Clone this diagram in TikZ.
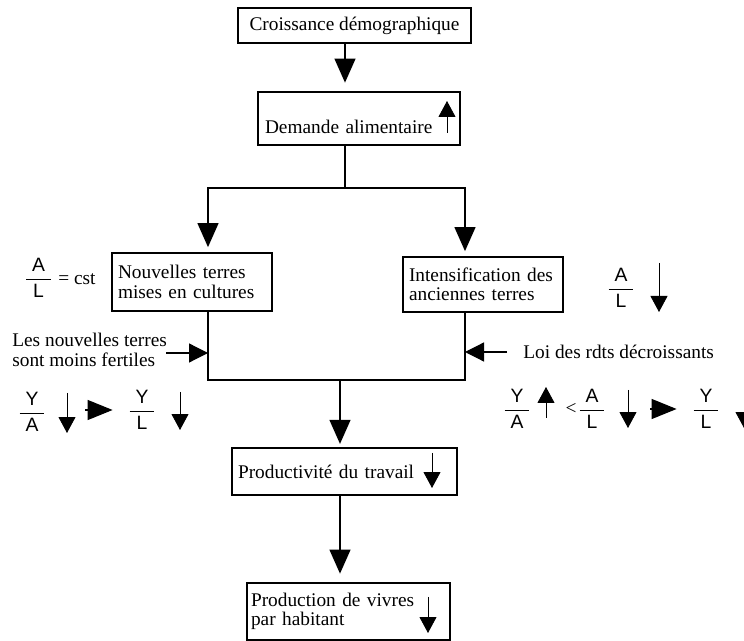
\documentclass[tikz,border=0pt]{standalone}
\usepackage{fontspec}
\setmainfont{Liberation Serif}
\setsansfont{Liberation Sans}
\usepackage{amsmath}
\usetikzlibrary{arrows.meta}
\tikzset{
	boite/.style={draw, line width=0.7pt, inner ysep=2pt, align=left}, % cadre des etapes
	flux/.style={line width=0.7pt, -{Triangle[length=0.48cm,width=0.42cm]}, shorten >=3pt},
	lien/.style={line width=0.7pt},
	cote/.style={line width=0.7pt, -{Triangle[length=0.38cm,width=0.38cm]}},
	implique/.style={line width=0.7pt, -{Triangle[length=0.5cm,width=0.4cm]}},
	hausse/.style={line width=0.5pt, -{Triangle[length=0.32cm,width=0.34cm]}},
	texte/.style={inner sep=0pt, align=left},
}
\newcommand{\rapport}[2]{$\genfrac{}{}{0.8pt}{0}{\makebox[14pt]{\textsf{#1}}}{\textsf{#2}}$}

\begin{document}
\begin{tikzpicture}[x=0.02cm, y=-0.02cm, every node/.style={font=\fontsize{11}{11}\selectfont}]
			\useasboundingbox (0,0) rectangle (744,641);

			% points de branchement
			\coordinate (split) at (345,188);
			\coordinate (lsplit) at (208,188);
			\coordinate (rsplit) at (465,188);
			\coordinate (merge) at (340,380);

			% etapes
			\node[boite, minimum width=4.66cm, minimum height=0.7cm] (croiss) at (354.5,25.5) {Croissance démographique};
			\node[boite, minimum width=4.04cm, minimum height=1.06cm, inner xsep=0.14cm, text width=3.76cm,
				text height=16.8pt, text depth=0pt] (demande) at (359,118.5) {Demande alimentaire};
			\node[boite, minimum width=3.2cm, minimum height=1.16cm, inner xsep=0.12cm, text width=2.96cm] (nouv) at (192,282) {Nouvelles terres\\mises en cultures};
			\node[boite, minimum width=3.2cm, minimum height=1.1cm, inner xsep=0.12cm, text width=2.96cm] (inten) at (483,284.5) {Intensification des\\anciennes terres};
			\node[boite, minimum width=4.5cm, minimum height=0.94cm, inner xsep=0.12cm, text width=4.26cm] (prod) at (344.5,471.5) {Productivité du travail};
			\node[boite, minimum width=4.06cm, minimum height=1.14cm, inner xsep=0.08cm, text width=3.9cm] (vivres) at (348.5,611.5) {Production de vivres\\par habitant};

			% fleches principales
			\draw[flux, shorten >=5pt] (croiss.south -| split) -- (demande.north -| split);
			\draw[lien] (demande.south -| split) -- (split);
			\draw[flux] (split) -| (nouv.north -| lsplit);
			\draw[flux] (split) -| (inten.north -| rsplit);
			\draw[lien] (nouv.south -| lsplit) |- (merge) -| (inten.south -| rsplit);
			\draw[flux, shorten >=2pt] (merge) -- (prod.north -| merge);
			\draw[flux, shorten >=5pt] (prod.south -| merge) -- (vivres.north -| merge);

			% hausses et baisses dans les cadres
			\draw[hausse] (447,133) -- (447,101);
			\draw[hausse] (432,453) -- (432,488);
			\draw[hausse] (428,597) -- (428,633);

			% cote gauche
			\node[anchor=west] (alcst) at (18,278) {\rapport{A}{L}\hspace{3pt}= cst};
			\node[texte, anchor=west] (fertiles) at (12,350) {Les nouvelles terres\\sont moins fertiles};
			\coordinate (fertd) at (166,353);
			\draw[cote] (fertd) -- (fertd -| lsplit);
			\node (ya1) at (32,412) {\rapport{Y}{A}};
			\draw[hausse] (67,393) -- (67,433);
			\node (yl1) at (142,410) {\rapport{Y}{L}};
			\coordinate (imp1) at (85,410);
			\draw[implique, shorten >=5pt] (imp1) -- (yl1.west);
			\draw[hausse] (180,392) -- (180,430);

			% cote droit
			\node (al1) at (621,288) {\rapport{A}{L}};
			\draw[hausse] (659,263) -- (659,312);
			\node[texte, anchor=west] (loi) at (523,352) {Loi des rdts décroissants};
			\coordinate (loig) at (507,352);
			\draw[cote] (loig) -- (loig -| rsplit);
			\node (ya2) at (517,409) {\rapport{Y}{A}};
			\draw[hausse] (546,418) -- (546,387);
			\node (inf) at (571,409) {<};
			\node (al2) at (592,409) {\rapport{A}{L}};
			\draw[hausse] (628,390) -- (628,428);
			\node (yl2) at (706,409) {\rapport{Y}{L}};
			\coordinate (imp2) at (650,409);
			\draw[implique, shorten >=5pt] (imp2) -- (yl2.west);
			\draw[hausse] (744,390) -- (744,428);

			\end{tikzpicture}
\end{document}
